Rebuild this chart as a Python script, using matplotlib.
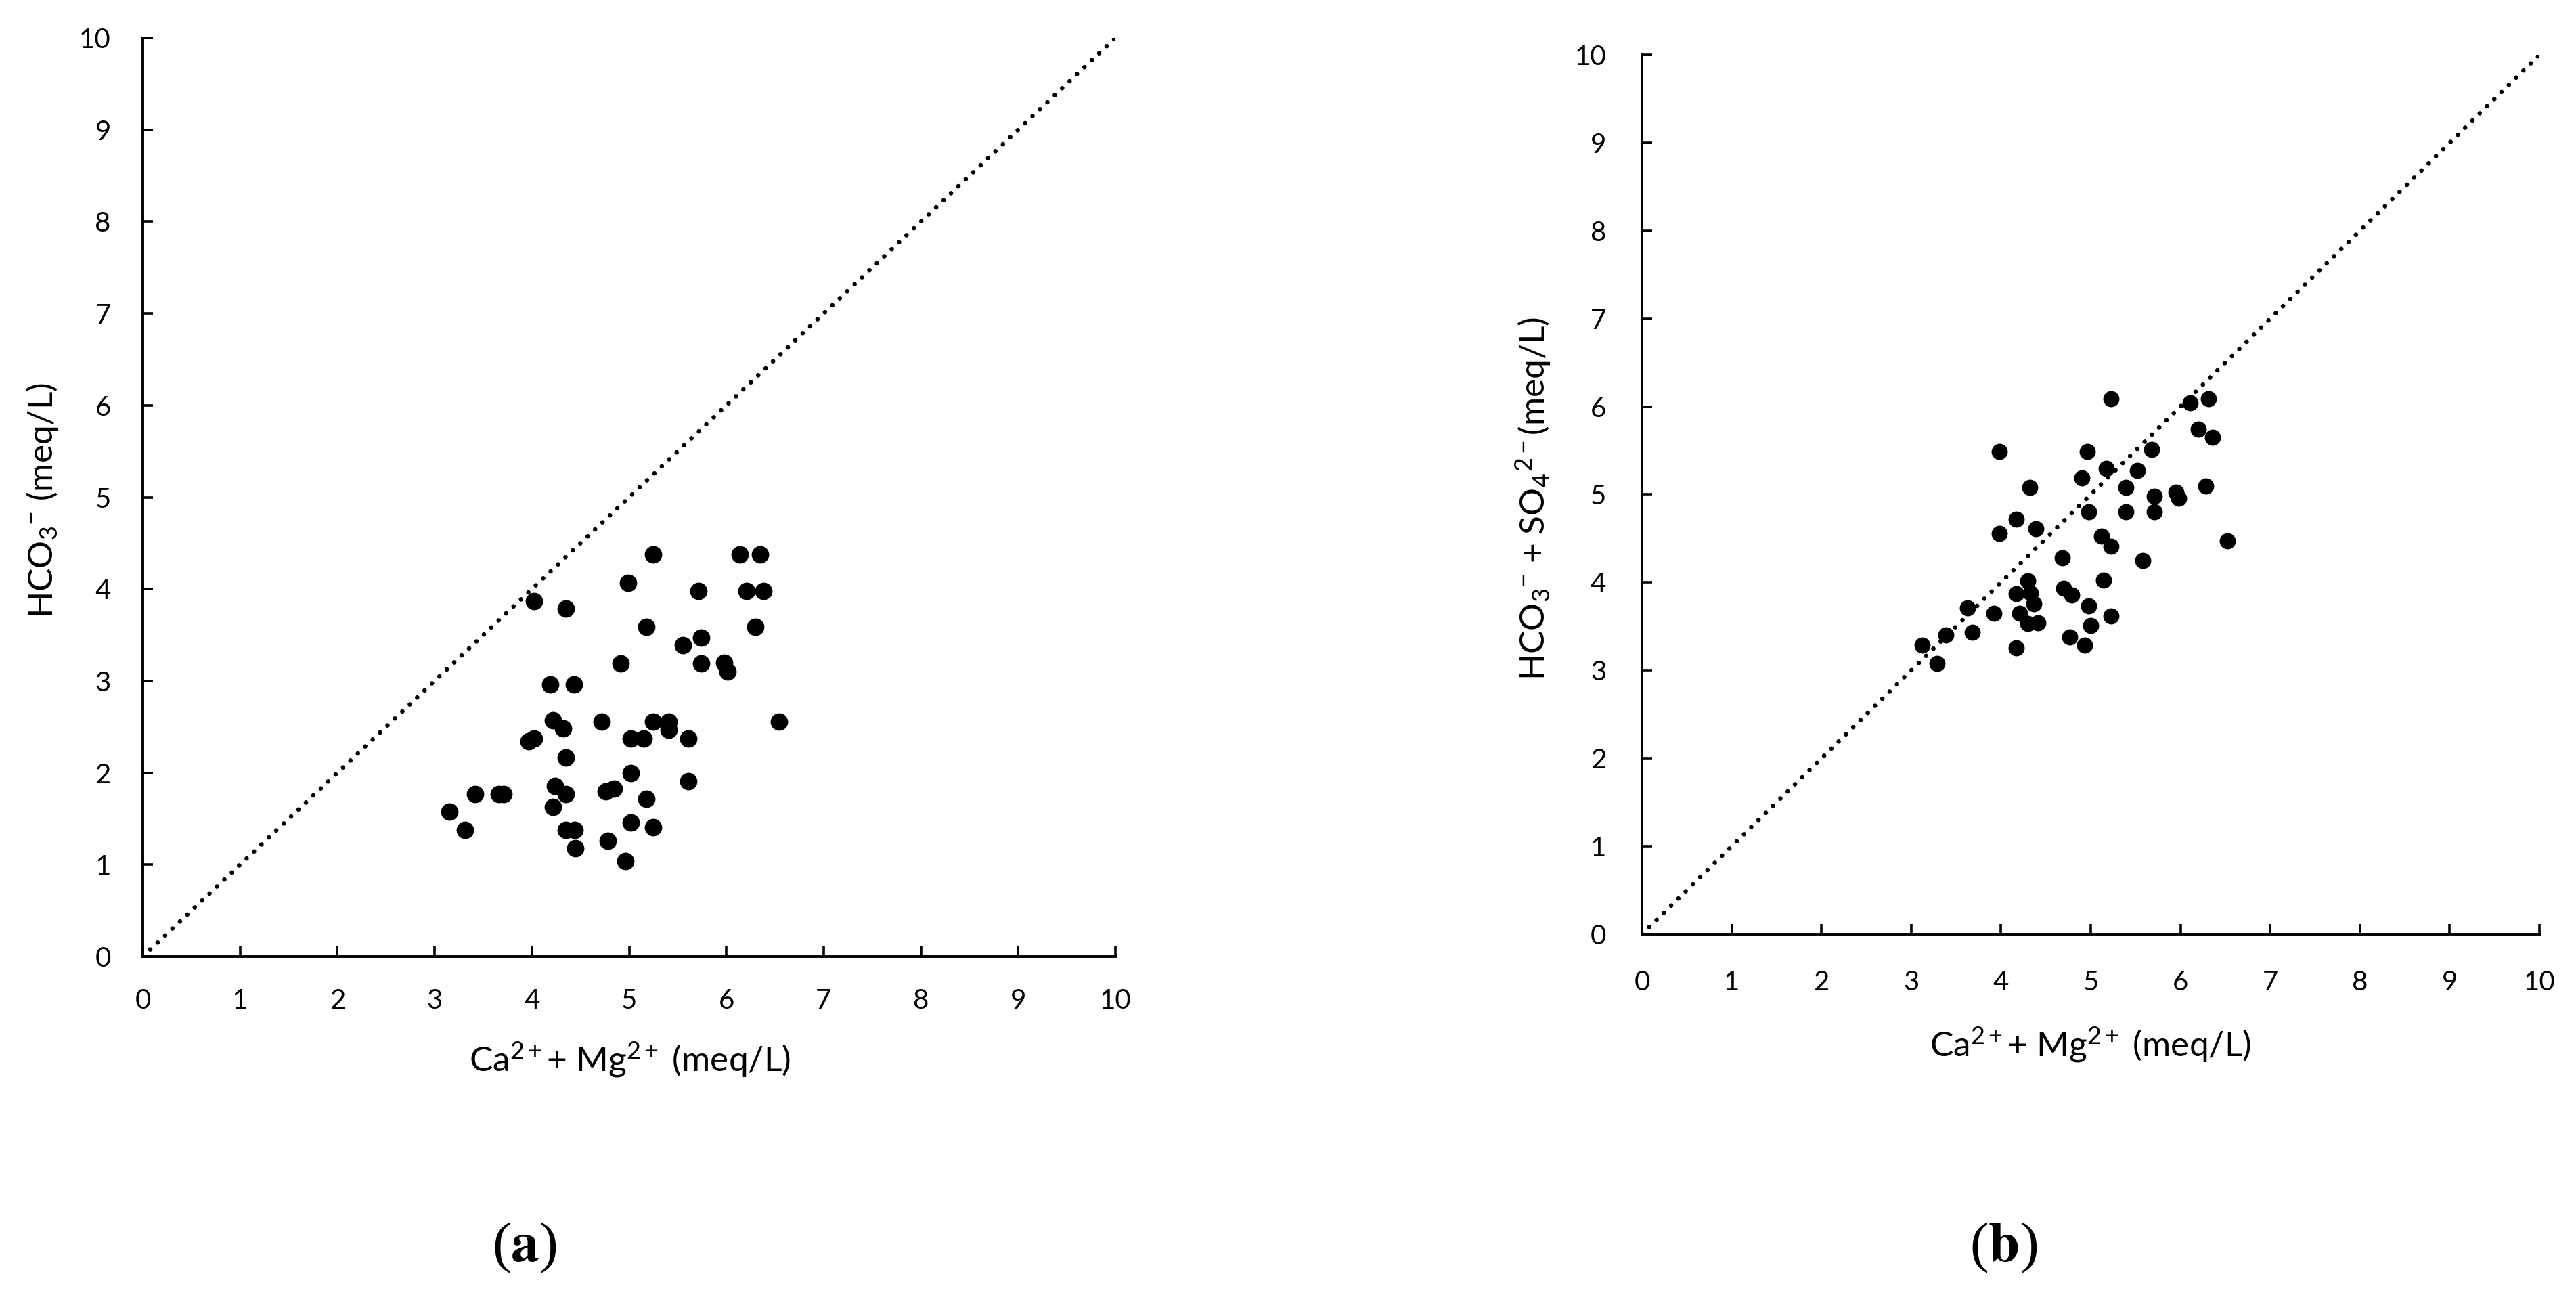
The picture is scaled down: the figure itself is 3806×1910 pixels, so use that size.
import matplotlib
matplotlib.use("Agg")
import matplotlib.pyplot as plt
import numpy as np

plt.rcParams['font.family'] = ['Lato', 'DejaVu Sans']
plt.rcParams['mathtext.fontset'] = 'custom'
plt.rcParams['mathtext.rm'] = 'Lato'
plt.rcParams['mathtext.it'] = 'Lato:italic'
plt.rcParams['mathtext.bf'] = 'Lato:bold'

# Panel (a): Ca2+ + Mg2+ vs HCO3-
a_x = [5.25, 6.14, 6.35, 4.99, 5.71, 6.21, 6.38, 4.02, 4.35, 5.18, 6.30, 5.74, 5.55,
       4.91, 5.74, 5.98, 6.01, 4.19, 4.43, 4.22, 4.32, 4.72, 5.25, 5.41, 5.41, 6.54,
       3.97, 4.02, 5.02, 5.15, 5.61, 4.35, 5.02, 5.61, 4.24, 4.35, 4.76, 4.84, 5.18,
       3.42, 3.66, 3.71, 3.15, 4.22, 5.02, 5.25, 3.31, 4.35, 4.44, 4.45, 4.78, 4.96]
a_y = [4.38, 4.38, 4.38, 4.07, 3.98, 3.98, 3.98, 3.87, 3.79, 3.59, 3.59, 3.47, 3.39,
       3.19, 3.19, 3.20, 3.10, 2.96, 2.96, 2.57, 2.48, 2.56, 2.56, 2.56, 2.47, 2.56,
       2.34, 2.37, 2.37, 2.37, 2.37, 2.17, 2.00, 1.91, 1.86, 1.77, 1.80, 1.83, 1.72,
       1.77, 1.77, 1.77, 1.58, 1.63, 1.46, 1.41, 1.38, 1.38, 1.38, 1.18, 1.26, 1.04]

# Panel (b): Ca2+ + Mg2+ vs HCO3- + SO4 2-
b_x = [5.23, 6.11, 6.31, 6.20, 6.36, 3.98, 4.96, 5.68, 5.17, 5.52, 4.90, 4.32, 5.39,
       6.28, 5.95, 5.98, 5.71, 4.98, 5.39, 5.71, 4.17, 3.98, 4.39, 5.12, 5.23, 6.52,
       4.68, 5.58, 5.14, 4.30, 4.70, 4.79, 4.17, 4.33, 4.37, 4.98, 3.63, 3.92, 4.21,
       5.23, 4.30, 4.41, 5.00, 3.68, 3.39, 4.77, 3.12, 4.17, 4.93, 3.29]
b_y = [6.09, 6.04, 6.09, 5.74, 5.65, 5.49, 5.49, 5.51, 5.30, 5.27, 5.19, 5.08, 5.08,
       5.10, 5.03, 4.96, 4.98, 4.80, 4.80, 4.80, 4.72, 4.56, 4.61, 4.53, 4.41, 4.47,
       4.28, 4.25, 4.03, 4.02, 3.93, 3.86, 3.87, 3.88, 3.76, 3.73, 3.71, 3.65, 3.65,
       3.62, 3.53, 3.54, 3.51, 3.43, 3.40, 3.38, 3.29, 3.26, 3.29, 3.08]

ticks = list(range(0, 11))
ref_line = [0, 10]

fig = plt.figure(figsize=(19.03, 9.55), dpi=200)
ax_a = fig.add_axes([0.05544, 0.26021, 0.37756, 0.71047])
ax_b = fig.add_axes([0.63741, 0.27749, 0.34840, 0.68010])

def style(ax, pad):
    ax.set_xlim(0, 10)
    ax.set_ylim(0, 10)
    ax.set_xticks(ticks)
    ax.set_yticks(ticks)
    for s in ['top', 'right']:
        ax.spines[s].set_visible(False)
    for s in ['left', 'bottom']:
        ax.spines[s].set_linewidth(1.4)
        ax.spines[s].set_color('black')
    ax.tick_params(direction='in', length=5.5, width=1.3, labelsize=14.5,
                   pad=pad, colors='black')

for ax, xs, ys, ms, pad in [(ax_a, a_x, a_y, 9.3, 17), (ax_b, b_x, b_y, 8.6, 19)]:
    style(ax, pad)
    ax.plot(ref_line, ref_line, color='black', lw=2.4,
            linestyle=(0, (0.01, 2.25)), dash_capstyle='round', zorder=2)
    ax.plot(xs, ys, 'o', color='black', markersize=ms, markeredgewidth=0,
            zorder=3, clip_on=False)

W, H = 3806, 1910
def fx(px):
    return px / W
def fy(py):
    return 1 - py / H

fig.text(fx(930), fy(1566), r'Ca$^{2+}$+ Mg$^{2+}$ (meq/L)', ha='center', va='center', fontsize=18.5)
fig.text(fx(3088), fy(1544), r'Ca$^{2+}$+ Mg$^{2+}$ (meq/L)', ha='center', va='center', fontsize=18.5)
fig.text(fx(63), fy(739), r'HCO$_3$$^{-}$ (meq/L)', ha='center', va='center', rotation=90, fontsize=18.5)
fig.text(fx(2266), fy(736), r'HCO$_3$$^{-}$ + SO$_4$$^{2-}$(meq/L)', ha='center', va='center', rotation=90, fontsize=18.5)

fig.text(fx(775), fy(1843), r'($\mathbf{a}$)', ha='center', va='center', fontsize=30,
         family='Liberation Serif', math_fontfamily='stix')
fig.text(fx(2960), fy(1843), r'($\mathbf{b}$)', ha='center', va='center', fontsize=30,
         family='Liberation Serif', math_fontfamily='stix')

fig.savefig('out.png', dpi=200, facecolor='white')
